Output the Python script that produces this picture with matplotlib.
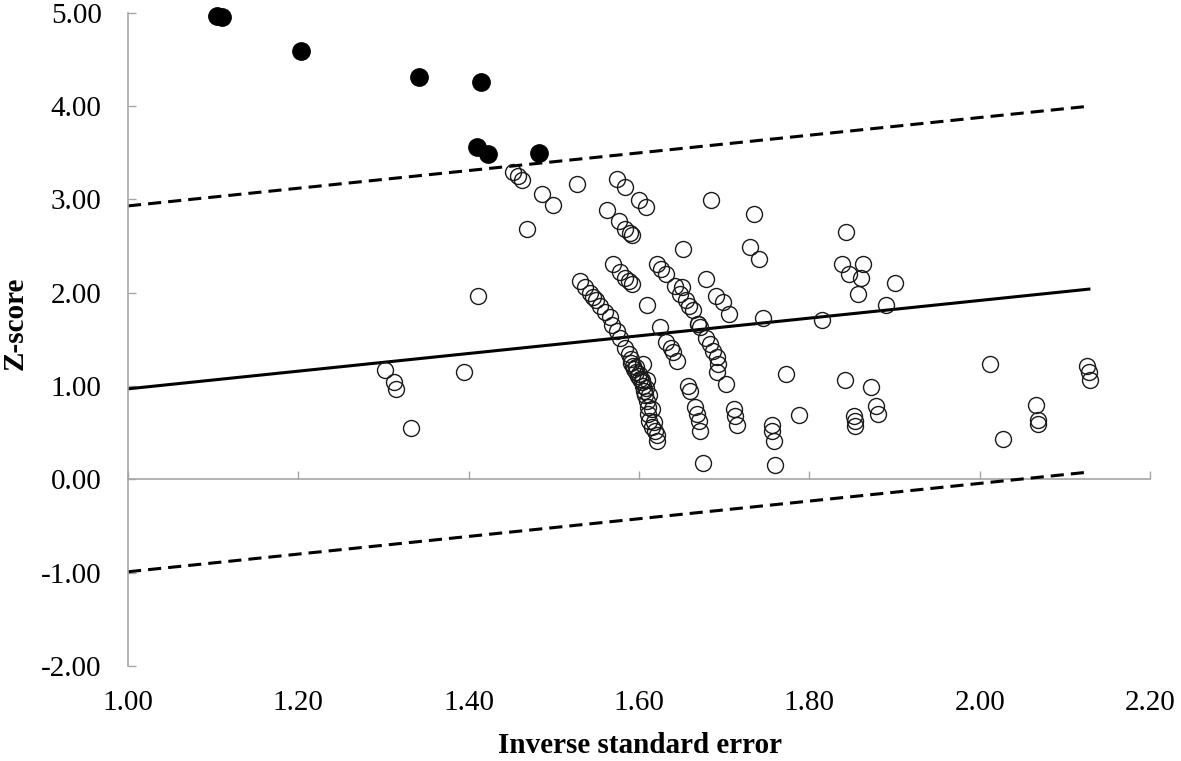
import matplotlib
matplotlib.use("Agg")
import matplotlib.pyplot as plt
import numpy as np

# ── data ──
# studies beyond the upper 95% band (filled markers)
outlier_x = [1.105, 1.110, 1.203, 1.342, 1.415, 1.410, 1.423, 1.482]
outlier_y = [4.97, 4.95, 4.59, 4.31, 4.26, 3.56, 3.49, 3.50]

# remaining studies (open markers)
study_x = [
    1.452, 1.458, 1.463, 1.486, 1.499, 1.469, 1.527,
    1.562, 1.574, 1.584, 1.600, 1.608,
    1.576, 1.584, 1.589, 1.592,
    1.411,
    1.570, 1.578, 1.584, 1.588, 1.592,
    1.621, 1.626, 1.632, 1.652,
    1.685, 1.735, 1.730, 1.741, 1.679,
    1.690, 1.698, 1.706,
    1.642, 1.650, 1.648, 1.655, 1.659, 1.663, 1.669,
    1.609, 1.746,
    1.531, 1.537, 1.543, 1.546, 1.550, 1.554, 1.560, 1.566,
    1.568, 1.574, 1.578, 1.584, 1.588, 1.590, 1.591, 1.593, 1.594, 1.597,
    1.599, 1.601, 1.603, 1.605, 1.606, 1.607, 1.609, 1.610, 1.611, 1.612,
    1.615, 1.617, 1.619, 1.621, 1.621,
    1.596, 1.600, 1.604, 1.608, 1.605, 1.609, 1.612, 1.615,
    1.625, 1.632, 1.638, 1.640, 1.644,
    1.669, 1.672,
    1.679, 1.683, 1.687, 1.691, 1.693, 1.691, 1.702,
    1.658, 1.660,
    1.666, 1.668, 1.670, 1.672,
    1.711, 1.713, 1.715,
    1.756, 1.756, 1.758,
    1.675, 1.760, 1.772,
    1.302, 1.312, 1.315, 1.395, 1.332,
    1.843, 1.838, 1.846, 1.863, 1.861, 1.857, 1.900, 1.890, 1.815,
    1.842, 1.872, 1.788, 1.878, 1.880, 1.852, 1.854, 1.854,
    2.012, 2.027, 2.066, 2.068, 2.068, 2.126, 2.128, 2.129,
]
study_y = [
    3.29, 3.25, 3.21, 3.06, 2.94, 2.68, 3.17,
    2.89, 3.22, 3.13, 2.99, 2.92,
    2.77, 2.68, 2.64, 2.62,
    1.97,
    2.31, 2.22, 2.16, 2.13, 2.09,
    2.31, 2.25, 2.20, 2.47,
    2.99, 2.84, 2.49, 2.36, 2.15,
    1.97, 1.90, 1.77,
    2.07, 2.06, 1.99, 1.92, 1.86, 1.82, 1.67,
    1.87, 1.73,
    2.13, 2.06, 2.00, 1.95, 1.92, 1.86, 1.79, 1.74,
    1.65, 1.59, 1.52, 1.41, 1.34, 1.29, 1.25, 1.22, 1.18, 1.15,
    1.11, 1.08, 1.04, 1.00, 0.95, 0.90, 0.84, 0.77, 0.70, 0.63,
    0.56, 0.61, 0.52, 0.47, 0.41,
    1.20, 1.13, 1.06, 0.98, 1.24, 1.06, 0.90, 0.75,
    1.63, 1.47, 1.41, 1.36, 1.27,
    1.67, 1.63,
    1.52, 1.45, 1.38, 1.31, 1.24, 1.15, 1.02,
    1.00, 0.95,
    0.77, 0.70, 0.63, 0.52,
    0.75, 0.68, 0.58,
    0.58, 0.52, 0.41,
    0.18, 0.15, 1.13,
    1.17, 1.04, 0.97, 1.15, 0.55,
    2.65, 2.31, 2.20, 2.31, 2.16, 1.99, 2.10, 1.87, 1.71,
    1.06, 0.99, 0.69, 0.79, 0.70, 0.68, 0.63, 0.57,
    1.24, 0.43, 0.80, 0.64, 0.59, 1.21, 1.15, 1.06,
]

# regression line and 95% bands (end points)
line_x = [1.00, 2.13]
fit_y = [0.97, 2.04]
upper_y = [2.93, 4.00]
lower_y = [-0.99, 0.08]

x_ticks = [1.00, 1.20, 1.40, 1.60, 1.80, 2.00, 2.20]
y_ticks = [-2.00, -1.00, 0.00, 1.00, 2.00, 3.00, 4.00, 5.00]

plt.rcParams["font.family"] = ["Liberation Serif", "DejaVu Serif"]
axis_grey = "#a6a6a6"

fig = plt.figure(figsize=(11.81, 7.61), dpi=100)
ax = fig.add_axes([0.1084, 0.1248, 0.8654, 0.8585])

# ── lines ──
ax.plot(line_x, fit_y, color="black", linewidth=2.2, solid_capstyle="butt")
ax.plot(line_x, upper_y, color="black", linewidth=2.2, dashes=(4.3, 2.3))
ax.plot(line_x, lower_y, color="black", linewidth=2.2, dashes=(4.3, 2.3))

# ── points ──
ax.plot(study_x, study_y, linestyle="none", marker="o", markersize=11.5,
        markerfacecolor="none", markeredgecolor="#1a1a1a", markeredgewidth=1.0)
ax.plot(outlier_x, outlier_y, linestyle="none", marker="o", markersize=12.5,
        markerfacecolor="black", markeredgecolor="black", clip_on=False)

# ── axes styling ──
ax.set_xlim(1.0, 2.2)
ax.set_ylim(-2.0, 5.0)
for side in ["top", "right", "bottom"]:
    ax.spines[side].set_visible(False)
ax.spines["left"].set_color(axis_grey)
ax.spines["left"].set_linewidth(1.2)

ax.set_yticks(y_ticks)
ax.set_yticklabels([f"{v:.2f}" for v in y_ticks])
ax.tick_params(axis="y", direction="in", length=6, width=1.0, color=axis_grey,
               labelsize=21, pad=19)

ax.set_xticks(x_ticks)
ax.set_xticklabels([f"{v:.2f}" for v in x_ticks])
ax.tick_params(axis="x", length=0, labelsize=21, pad=17)

# horizontal axis line crossing at y = 0 with upward ticks
zero_frac = (0 - (-2.0)) / (5.0 - (-2.0))
sec = ax.secondary_xaxis(zero_frac)
sec.set_xticks(x_ticks)
sec.tick_params(axis="x", direction="in", length=6, width=1.0, color=axis_grey,
                labelbottom=False, labeltop=False)
sec.spines["bottom"].set_color(axis_grey)
sec.spines["bottom"].set_linewidth(1.2)

ax.set_xlabel("Inverse standard error", fontsize=21, fontweight="bold",
              va="center")
ax.set_ylabel("Z-score", fontsize=21, fontweight="bold", va="center")
ax.xaxis.set_label_coords(0.501, -0.121)
ax.yaxis.set_label_coords(-0.110, 0.525)

fig.savefig("out.png", dpi=100)
plt.close(fig)
